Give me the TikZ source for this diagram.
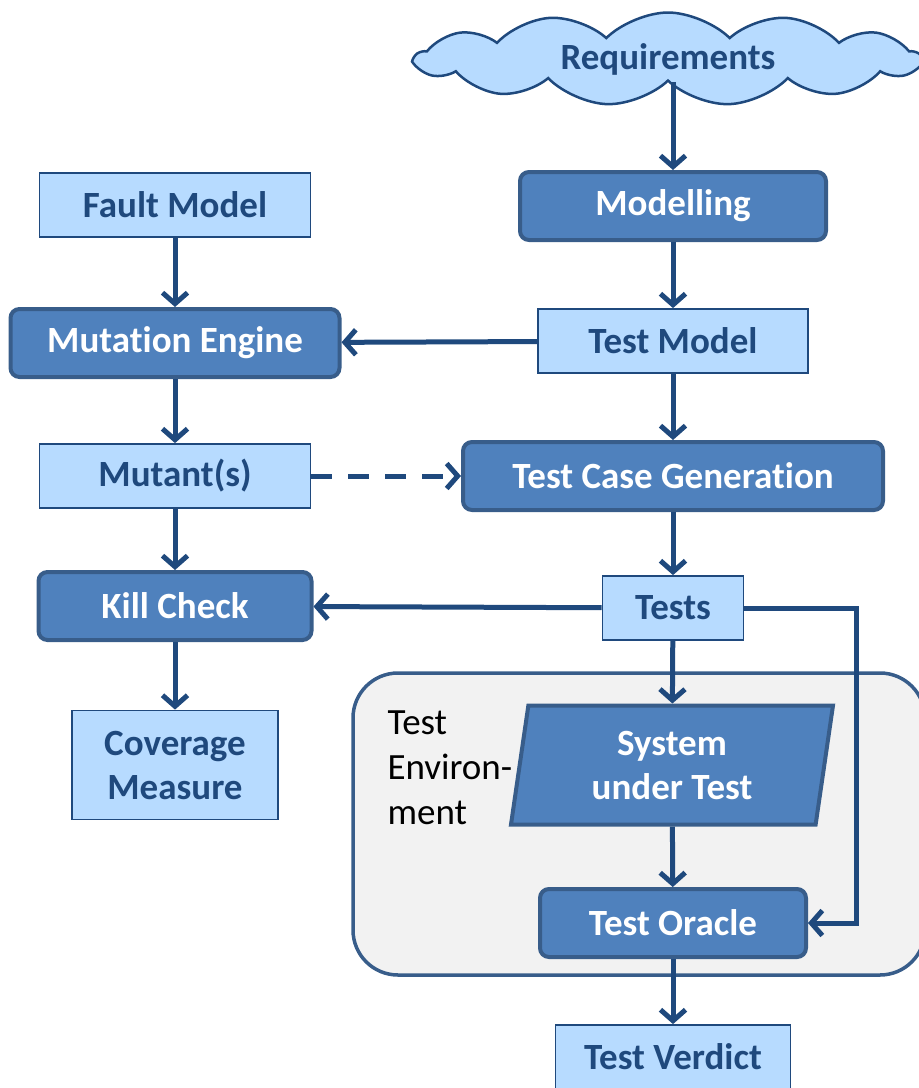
\documentclass[tikz,border=0pt]{standalone}
\usepackage{fontspec}
\setmainfont{Carlito}[Ligatures=NoCommon]
\usetikzlibrary{shapes.geometric,shapes.symbols,arrows.meta}
\definecolor{lightfill}{HTML}{B7DBFF}
\definecolor{darkfill}{HTML}{4F81BD}
\definecolor{darkline}{HTML}{385D8A}
\definecolor{navy}{HTML}{1F497D}
\definecolor{envfill}{HTML}{F2F2F2}
\begin{document}
\begin{tikzpicture}[x=1pt,y=-1pt,
    font=\fontsize{37}{44}\selectfont\bfseries,
    lightbox/.style={draw=navy, line width=1.8pt, fill=lightfill, text=navy, minimum height=64pt},
    darkbox/.style={draw=darkline, line width=4pt, fill=darkfill, text=white, rounded corners=9pt, minimum height=68pt},
    flow/.style={draw=navy, line width=5pt, -{Straight Barb[length=11pt,width=25pt]}}]
    \useasboundingbox (0,0) rectangle (919,1088);
    \clip (0,0) rectangle (919,1088);
    % test environment
    \node[draw=darkline, line width=3.5pt, fill=envfill, rounded corners=45pt,
        minimum width=572pt, minimum height=302pt] (env) at (639,824) {};
    \node[anchor=north west, align=left, text=black,
        font=\fontsize{37}{45}\selectfont] (envlabel) at (384,707) {Test\\Environ-\\ment};
    % right column
    \node[cloud, cloud puffs=13, cloud puff arc=90, aspect=5.3, cloud ignores aspect,
        draw=navy, line width=2.5pt, fill=lightfill, text=navy,
        minimum width=505pt, minimum height=93pt] (req) at (668,59) {Requirements\hspace{26pt}};
    \node[darkbox, minimum width=306pt] (model) at (673,206) {Modelling};
    \node[lightbox, minimum width=270pt] (testmodel) at (673,341) {Test Model};
    \node[darkbox, minimum width=420pt] (tcg) at (673,476) {Test Case Generation};
    \node[lightbox, minimum width=141pt] (tests) at (673,608) {Tests};
    \node[trapezium, trapezium left angle=77, trapezium right angle=103, trapezium stretches body,
        draw=darkline, line width=4pt, fill=darkfill, text=white, align=center,
        minimum width=322pt, minimum height=119pt] (sut) at (672,765) {System\\under Test};
    \node[darkbox, minimum width=266pt] (oracle) at (673,923) {Test Oracle};
    \node[lightbox, minimum width=235pt] (verdict) at (673,1057) {Test Verdict};
    % left column
    \node[lightbox, minimum width=271pt] (fault) at (175,205) {Fault Model};
    \node[darkbox, minimum width=329pt] (mutengine) at (175,343) {Mutation Engine};
    \node[lightbox, minimum width=271pt] (mutant) at (175,476) {Mutant(s)};
    \node[darkbox, minimum width=273pt] (kill) at (175,606) {Kill Check};
    \node[lightbox, minimum width=206pt, minimum height=109pt, align=center] (coverage) at (175,765) {Coverage\\Measure};
    % connectors
    \draw[flow] (req.south -| model) -- (model);
    \draw[flow] (model) -- (testmodel);
    \draw[flow] (testmodel) -- (tcg);
    \draw[flow] (tcg) -- (tests);
    \draw[flow] (tests) -- (sut);
    \draw[flow] (sut) -- (oracle);
    \draw[flow] (oracle) -- (verdict);
    \draw[flow] (fault) -- (mutengine);
    \draw[flow] (mutengine) -- (mutant);
    \draw[flow] (mutant) -- (kill);
    \draw[flow] (kill) -- (coverage);
    \draw[flow] (testmodel) -- (mutengine);
    \draw[flow, dash pattern=on 21pt off 16pt] (mutant) -- (tcg);
    \draw[flow] (tests) -- (kill);
    \draw[flow] (tests.east) -- ++(112,0) |- (oracle.east);
\end{tikzpicture}
\end{document}
